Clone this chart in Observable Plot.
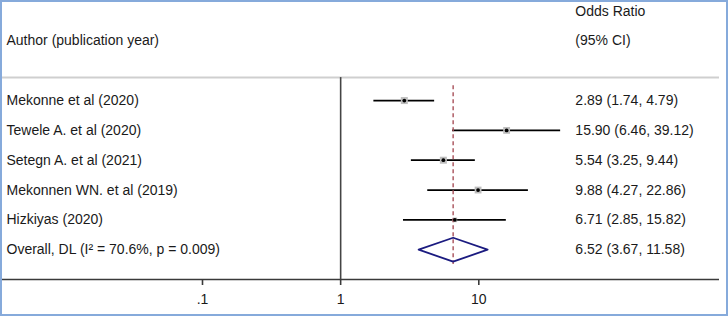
<!DOCTYPE html>
<html>
<head>
<meta charset="utf-8">
<script src="https://cdn.jsdelivr.net/npm/d3@7"></script>
<script src="https://cdn.jsdelivr.net/npm/@observablehq/plot@0.6"></script>
<style>
  html, body { margin: 0; padding: 0; background: white; }
</style>
</head>
<body>
<div id="chart"></div>
<script>
// ---- data ----
const studies = ["Mekonne et al (2020)", "Tewele A. et al (2020)", "Setegn A. et al (2021)", "Mekonnen WN. et al (2019)", "Hizkiyas (2020)"];
const oddsRatio = [2.89, 15.90, 5.54, 9.88, 6.71];
const lower = [1.74, 6.46, 3.25, 4.27, 2.85];
const upper = [4.79, 39.12, 9.44, 22.86, 15.82];
const weights = [23, 22, 23, 22, 10];
const overallLabel = "Overall, DL (I² = 70.6%, p = 0.009)";
const overallOR = 6.52;
const overallLower = 3.67;
const overallUpper = 11.58;
const headerLeft = ["Author (publication year)"];
const headerRight = ["Odds Ratio", "(95% CI)"];
const tickValues = [0.1, 1, 10];
const tickLabels = [".1", "1", "10"];

// ---- derived tables ----
const fmt = v => v.toFixed(2);
const rows = studies.map((s, i) => ({
  label: s, or: oddsRatio[i], lo: lower[i], hi: upper[i], w: weights[i], row: i,
  ci: `${fmt(oddsRatio[i])} (${fmt(lower[i])}, ${fmt(upper[i])})`
}));
const overallRow = studies.length;
const textRows = [
  ...rows,
  {label: overallLabel, row: overallRow, ci: `${fmt(overallOR)} (${fmt(overallLower)}, ${fmt(overallUpper)})`}
];
const diamond = [
  {x: overallLower, y: overallRow},
  {x: overallOR, y: overallRow - 0.4},
  {x: overallUpper, y: overallRow},
  {x: overallOR, y: overallRow + 0.4},
  {x: overallLower, y: overallRow}
];
const headers = [
  {t: headerLeft[0], row: -2, side: "left"},
  {t: headerRight[0], row: -3, side: "right"},
  {t: headerRight[1], row: -2, side: "right"}
];
const ciColumnX = 50;
const axisRow = overallRow + 1;
const sepRow = -0.77;

const chart = Plot.plot({
  width: 728,
  height: 316,
  marginTop: 0,
  marginBottom: 37,
  marginLeft: 2,
  marginRight: 9,
  style: {
    fontFamily: "'Liberation Sans', Arial, sans-serif",
    fontSize: "14px",
    color: "#1a1a1a",
    background: "white",
    outline: "2px solid #86aadb",
    outlineOffset: "-2px"
  },
  x: {type: "log", domain: [0.1, 10], range: [202, 478.3]},
  y: {type: "linear", domain: [-100 / 29.8, axisRow], range: [0, 279], axis: null},
  r: {type: "sqrt", domain: [0, 23], range: [0, 3.95]},
  marks: [
    Plot.ruleY([sepRow], {stroke: "#cfcfcf", strokeWidth: 2}),
    Plot.ruleY([axisRow], {stroke: "#3a3a3a", strokeWidth: 1.6}),
    Plot.ruleX([1], {y1: sepRow, y2: axisRow, stroke: "#444", strokeWidth: 1.6}),
    Plot.ruleY(rows, {y: "row", x1: "lo", x2: "hi", stroke: "#000", strokeWidth: 1.8}),
    Plot.dot(rows, {x: "or", y: "row", r: "w", symbol: "square", fill: "#bdbdbd", stroke: null}),
    Plot.ruleX([overallOR], {y1: -0.5, y2: overallRow + 0.5, stroke: "#a9505a", strokeWidth: 1.4, strokeDasharray: "4,3"}),
    Plot.dot(rows, {x: "or", y: "row", r: 1.9, fill: "#000", stroke: null}),
    Plot.line(diamond, {x: "x", y: "y", stroke: "#1b1b80", strokeWidth: 1.8, fill: "none", curve: "linear"}),
    Plot.text(textRows, {y: "row", text: "label", frameAnchor: "left", dx: 4, textAnchor: "start", fill: "#1a1a1a"}),
    Plot.text(textRows, {y: "row", x: () => ciColumnX, text: "ci", textAnchor: "start", fill: "#1a1a1a"}),
    Plot.text(headers.filter(d => d.side === "left"), {y: "row", text: "t", frameAnchor: "left", dx: 4, textAnchor: "start", fill: "#1a1a1a"}),
    Plot.text(headers.filter(d => d.side === "right"), {y: "row", x: () => ciColumnX, text: "t", textAnchor: "start", fill: "#1a1a1a"}),
    Plot.axisX({
      ticks: tickValues,
      tickFormat: d => tickLabels[tickValues.indexOf(d)],
      tickSize: 6,
      tickPadding: 9,
      stroke: "#3a3a3a",
      strokeWidth: 1.6,
      label: null,
      fill: "#1a1a1a"
    })
  ]
});
document.getElementById("chart").appendChild(chart);
</script>
</body>
</html>
